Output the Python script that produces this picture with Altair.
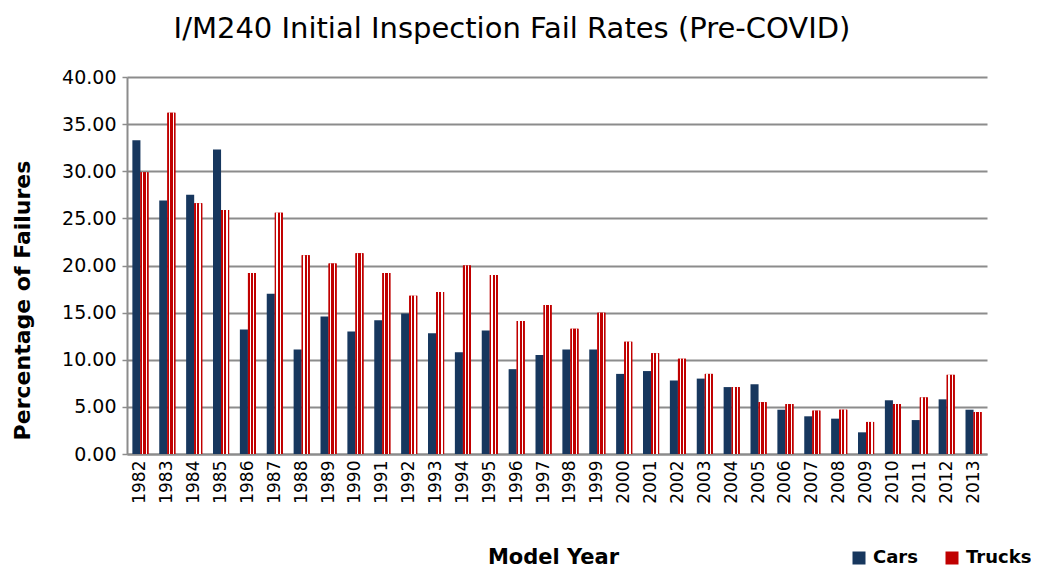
import altair as alt
import pandas as pd

years = ["1982", "1983", "1984", "1985", "1986", "1987", "1988", "1989", "1990", "1991",
         "1992", "1993", "1994", "1995", "1996", "1997", "1998", "1999", "2000", "2001",
         "2002", "2003", "2004", "2005", "2006", "2007", "2008", "2009", "2010", "2011",
         "2012", "2013"]
cars = [33.3, 26.9, 27.5, 32.3, 13.2, 17.0, 11.1, 14.6, 13.0, 14.2,
        14.9, 12.8, 10.8, 13.1, 9.0, 10.5, 11.1, 11.1, 8.5, 8.8,
        7.8, 8.0, 7.1, 7.4, 4.7, 4.0, 3.75, 2.3, 5.7, 3.6,
        5.8, 4.7]
trucks = [29.9, 36.2, 26.6, 25.9, 19.2, 25.6, 21.1, 20.2, 21.3, 19.2,
          16.8, 17.2, 20.0, 19.0, 14.1, 15.8, 13.3, 15.0, 11.9, 10.7,
          10.1, 8.5, 7.1, 5.5, 5.3, 4.6, 4.7, 3.4, 5.3, 6.0,
          8.4, 4.45]
series = ["Cars", "Trucks"]
y_ticks = [0, 5, 10, 15, 20, 25, 30, 35, 40]

rows = []
for i, yr in enumerate(years):
    rows.append({"year": yr, "series": "Cars", "value": cars[i]})
    rows.append({"year": yr, "series": "Trucks", "value": trucks[i]})
df = pd.DataFrame(rows)

FONT = "DejaVu Sans"
GRID = "#8c8c8c"

x_enc = alt.X("year:N", sort=years,
              scale=alt.Scale(paddingInner=0.4, paddingOuter=0.2),
              axis=alt.Axis(title="Model Year", labelAngle=270, labelFontSize=17,
                            labelFont=FONT, labelColor="black", labelPadding=6,
                            ticks=False, domainColor=GRID, domainWidth=2,
                            titleFont=FONT, titleFontSize=21, titleFontWeight="bold",
                            titleColor="black", titleX=426, titleY=103,
                            titleBaseline="middle", titleAlign="center"))
xoff_enc = alt.XOffset("series:N", scale=alt.Scale(domain=series, paddingInner=0, paddingOuter=0))
y_enc = alt.Y("value:Q",
              scale=alt.Scale(domain=[0, 40], nice=False),
              axis=alt.Axis(title="Percentage of Failures", values=y_ticks, format=".2f",
                            labelFontSize=19, labelFont=FONT, labelColor="black",
                            labelPadding=6, tickSize=5, tickColor=GRID, tickWidth=1.5,
                            domainColor=GRID, domainWidth=2,
                            grid=True, gridColor=GRID, gridWidth=2,
                            titleFont=FONT, titleFontSize=22, titleFontWeight="bold",
                            titleColor="black", titleAngle=270, titleX=-105, titleY=223,
                            titleBaseline="middle", titleAlign="center"))

bars = alt.Chart(df).mark_bar().encode(
    x=x_enc,
    xOffset=xoff_enc,
    y=y_enc,
    color=alt.Color("series:N",
                    scale=alt.Scale(domain=series, range=["#17375E", "#C00000"]),
                    legend=alt.Legend(orient="none", legendX=723, legendY=472,
                                      direction="horizontal", title=None,
                                      symbolType="square", symbolSize=169,
                                      symbolStrokeWidth=0,
                                      labelFont=FONT, labelFontSize=18,
                                      labelFontWeight="bold", labelColor="black",
                                      labelOffset=5, columnPadding=25)),
)

checker = alt.LinearGradient(
    gradient="linear", x1=0, x2=1, y1=0, y2=0,
    stops=[
        alt.GradientStop(color="#C00000", offset=0),
        alt.GradientStop(color="#C00000", offset=0.2),
        alt.GradientStop(color="#ffffff", offset=0.2),
        alt.GradientStop(color="#ffffff", offset=0.35),
        alt.GradientStop(color="#C00000", offset=0.35),
        alt.GradientStop(color="#C00000", offset=0.65),
        alt.GradientStop(color="#ffffff", offset=0.65),
        alt.GradientStop(color="#ffffff", offset=0.8),
        alt.GradientStop(color="#C00000", offset=0.8),
        alt.GradientStop(color="#C00000", offset=1),
    ],
)

overlay = alt.Chart(df).transform_filter(
    alt.datum.series == "Trucks"
).mark_bar(fill=checker).encode(
    x=alt.X("year:N", sort=years),
    xOffset=alt.XOffset("series:N"),
    y=alt.Y("value:Q"),
)

chart = alt.layer(bars, overlay).properties(
    width=860,
    height=377,
    padding={"left": 119, "top": 69, "right": 44, "bottom": 116},
    autosize=alt.AutoSizeParams(type="none"),
    title=alt.TitleParams("I/M240 Initial Inspection Fail Rates (Pre-COVID)",
                          font=FONT, fontSize=29, fontWeight="normal", color="black",
                          anchor="middle", dx=-45, offset=24),
).configure_view(stroke=None)

chart.save("out.html", embed_options={"renderer": "svg", "actions": False})
